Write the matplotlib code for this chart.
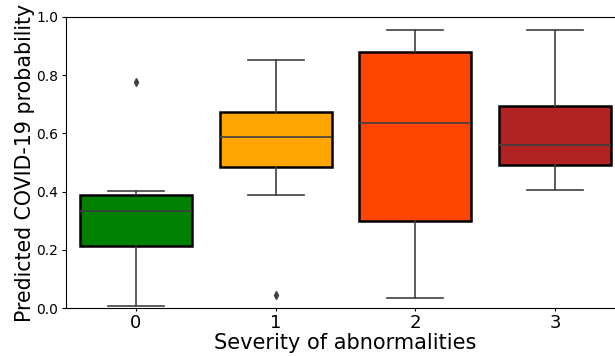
import numpy as np
import matplotlib
matplotlib.use("Agg")
import matplotlib.pyplot as plt

# Severity categories and box statistics
categories = ["0", "1", "2", "3"]
colors = ["green", "orange", "orangered", "firebrick"]
whislo = [0.008, 0.388, 0.034, 0.404]
q1 = [0.213, 0.486, 0.299, 0.492]
med = [0.334, 0.588, 0.635, 0.561]
q3 = [0.388, 0.672, 0.880, 0.695]
whishi = [0.402, 0.853, 0.956, 0.956]
fliers = [[0.778], [0.045], [], []]

stats = []
for i in range(len(categories)):
    stats.append(dict(whislo=whislo[i], q1=q1[i], med=med[i], q3=q3[i],
                      whishi=whishi[i], fliers=fliers[i], label=categories[i]))

fig = plt.figure(figsize=(6.15, 3.56), dpi=100)
# axes runs slightly past the right edge, as in the reference
ax = fig.add_axes([66 / 615, 48 / 356, 559 / 615, 291 / 356])

bp = ax.bxp(stats, positions=np.arange(len(categories)), widths=0.8,
            patch_artist=True, showfliers=True,
            boxprops=dict(edgecolor="black", linewidth=1.8),
            medianprops=dict(color="#3f3f3f", linewidth=1.2),
            whiskerprops=dict(color="#3f3f3f", linewidth=1.2),
            capprops=dict(color="#3f3f3f", linewidth=1.2),
            flierprops=dict(marker="d", markersize=4, markerfacecolor="#3f3f3f",
                            markeredgecolor="#3f3f3f"))
for patch, c in zip(bp["boxes"], colors):
    patch.set_facecolor(c)
for cap in bp["caps"]:
    x = cap.get_xdata()
    mid = x.mean()
    cap.set_xdata([mid - 0.2, mid + 0.2])

ax.set_xlim(-0.5, 3.5)
ax.set_ylim(0, 1.0)
ax.set_xticks(np.arange(len(categories)))
ax.set_xticklabels(categories, fontsize=13)
ax.tick_params(axis="x", length=2, pad=2)
ax.tick_params(axis="y", labelsize=10, length=3, pad=2.5)
ax.set_xlabel("Severity of abnormalities", fontsize=15, labelpad=1)
ax.set_ylabel("Predicted COVID-19 probability", fontsize=14.8, labelpad=1)

fig.savefig("out.png", dpi=100)
